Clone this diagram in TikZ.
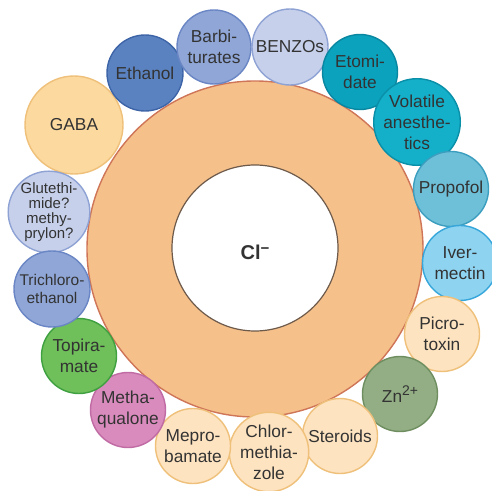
\documentclass[tikz,border=0pt]{standalone}
\usepackage{fontspec}
\setmainfont{Liberation Sans}
\definecolor{ringfill}{HTML}{F5C08A}
\definecolor{ringline}{HTML}{CF7558}
\definecolor{innerline}{HTML}{6E5A4A}
\definecolor{txt}{HTML}{333333}
\definecolor{paleF}{HTML}{FDE3C0}
\definecolor{paleD}{HTML}{EFC07A}
\definecolor{gabaF}{HTML}{FCD99E}
\definecolor{ethF}{HTML}{5B82C0}
\definecolor{ethD}{HTML}{3E64A8}
\definecolor{barbF}{HTML}{8FA6D7}
\definecolor{barbD}{HTML}{6A86C4}
\definecolor{benzF}{HTML}{C6D0EB}
\definecolor{benzD}{HTML}{8FA2D4}
\definecolor{etoF}{HTML}{0BA2BD}
\definecolor{etoD}{HTML}{0A87A0}
\definecolor{volF}{HTML}{14AFC9}
\definecolor{volD}{HTML}{0A8FA8}
\definecolor{propF}{HTML}{6EC0D9}
\definecolor{propD}{HTML}{3C9EBE}
\definecolor{ivF}{HTML}{8ED4F1}
\definecolor{ivD}{HTML}{36A6DB}
\definecolor{znF}{HTML}{93AE84}
\definecolor{znD}{HTML}{6E8E60}
\definecolor{methF}{HTML}{D98BBD}
\definecolor{methD}{HTML}{C06BA3}
\definecolor{topF}{HTML}{6FBF5A}
\definecolor{topD}{HTML}{3FA040}
\begin{document}
\begin{tikzpicture}[x=1pt,y=1pt,
  drug/.style={circle, draw=#1, line width=1.4pt, inner sep=0pt, text=txt, align=center,
    font=\fontsize{17.3}{21}\selectfont},
  sm/.style={font=\fontsize{15.5}{18}\selectfont},
  xs/.style={font=\fontsize{15}{15}\selectfont}]
\useasboundingbox (0,0) rectangle (492,490);
\begin{scope}
\clip (0,0) rectangle (492,490);
\node[circle, fill=ringfill, draw=ringline, line width=1.4pt, minimum size=336pt, inner sep=0pt] (ring) at (255,241) {};
\node[circle, fill=white, draw=innerline, line width=1.2pt, minimum size=166pt, inner sep=0pt] (core) at (255,242) {};
\node[text=txt, font=\bfseries\fontsize{20}{22}\selectfont] (cl) at (255,238) {Cl\raisebox{0.55ex}{\fontsize{15}{15}\selectfont −}};
\node[drug=paleD, fill=gabaF, minimum size=98pt] (gaba) at (74,365) {GABA};
\node[drug=benzD, fill=benzF, minimum size=80pt, xs] (glut) at (49,278) {Glutethi-\\mide?\\methy-\\prylon?};
\node[drug=ethD, fill=ethF, minimum size=76pt] (eth) at (145,417) {Ethanol};
\node[drug=barbD, fill=barbF, minimum size=74pt] (barb) at (214,443) {Barbi-\\turates};
\node[drug=benzD, fill=benzF, minimum size=76pt] (benz) at (290,443) {BENZOs};
\node[drug=etoD, fill=etoF, minimum size=75pt] (eto) at (360,418) {Etomi-\\date};
\node[drug=volD, fill=volF, minimum size=75pt] (vol) at (417,368) {Volatile\\anesthe-\\tics};
\node[drug=propD, fill=propF, minimum size=75pt] (prop) at (451,301) {Propofol};
\node[drug=ivD, fill=ivF, minimum size=75pt] (iver) at (460,227) {Iver-\\mectin};
\node[drug=paleD, fill=paleF, minimum size=75pt] (picro) at (442,156) {Picro-\\toxin};
\node[drug=znD, fill=znF, minimum size=75pt] (zn) at (400,96) {Zn\raisebox{0.75ex}{\fontsize{14}{14}\selectfont 2+}};
\node[drug=paleD, fill=paleF, minimum size=75pt] (ster) at (340,54) {Steroids};
\node[drug=paleD, fill=paleF, minimum size=74pt] (chlor) at (269,38) {Chlor-\\methia-\\zole};
\node[drug=paleD, fill=paleF, minimum size=75pt] (mepro) at (193,44) {Mepro-\\bamate};
\node[drug=methD, fill=methF, minimum size=75pt] (metha) at (128,80) {Metha-\\qualone};
\node[drug=topD, fill=topF, minimum size=75pt] (topi) at (79,134) {Topira-\\mate};
\node[drug=barbD, fill=barbF, minimum size=76pt, sm] (trich) at (52,201) {Trichloro-\\ethanol};
\end{scope}
\end{tikzpicture}
\end{document}
